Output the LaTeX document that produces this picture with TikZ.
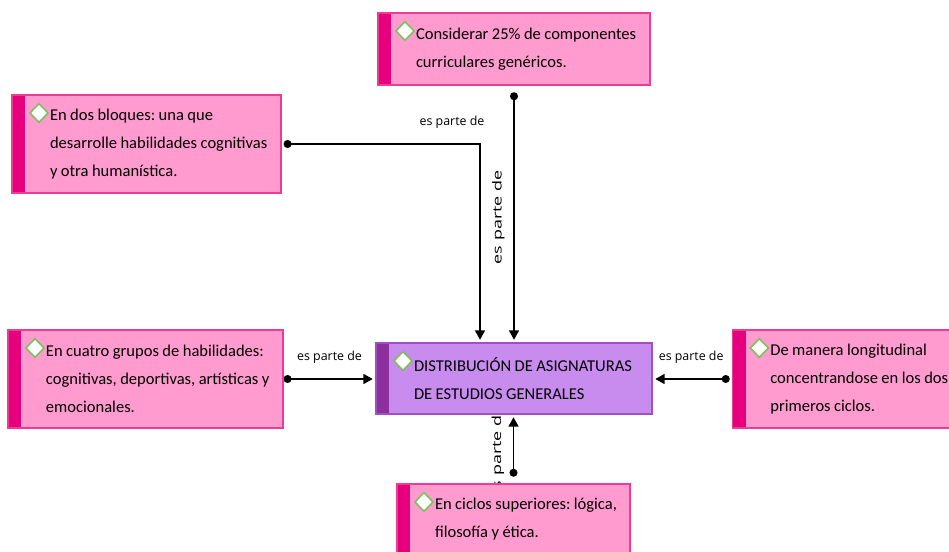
\documentclass[tikz,border=0pt]{standalone}
\usepackage{fontspec}
\setmainfont{Carlito}
\newfontfamily\labelfont{Open Sans}
\usepackage{xcolor}
\usetikzlibrary{shapes.geometric, arrows.meta}
\usetikzlibrary{shapes,positioning,backgrounds}
\definecolor{boxfill}{HTML}{FF9BCF}
\definecolor{boxedge}{HTML}{EC3C95}
\definecolor{boxbar}{HTML}{E6007E}
\definecolor{mainfill}{HTML}{C88BEE}
\definecolor{mainedge}{HTML}{A050C0}
\definecolor{mainbar}{HTML}{8E2F9E}
\definecolor{markgreen}{HTML}{7BC15C}
\tikzstyle{arrow} = [line width=1pt,{Circle[length=6pt]}->,shorten >=2pt]
\tikzstyle{linklabel} = [font=\labelfont\fontsize{9.3}{11}\selectfont, inner sep=1pt]

\begin{document}
\begin{tikzpicture}[x=0.75pt, y=-0.75pt, >={Triangle[length=7pt,width=7.5pt]},
    box/.style={rectangle, draw=boxedge, fill=boxfill, line width=0.9pt,
        align=left, inner xsep=6pt, font=\fontsize{12.4}{21}\selectfont,
        execute at begin node={\frenchspacing\hyphenpenalty=10000\spaceskip=0.21em\leftskip=22.5pt},
        path picture={
            \fill[#1] (path picture bounding box.north west)
                rectangle ([xshift=10pt]path picture bounding box.south west);
            \draw[markgreen, fill=white, line width=1.2pt]
                ([xshift=20.25pt,yshift=-6.5pt]path picture bounding box.north west)
                -- ++(6.8pt,-7pt) -- ++(-6.8pt,-7pt) -- ++(-6.8pt,7pt) -- cycle;
        }},
    box/.default=boxbar,
    mainbox/.style={box=mainbar, draw=mainedge, fill=mainfill}]
    \useasboundingbox (0,0) rectangle (949,552);
    \clip (0,0) rectangle (949,552);

    % nodos
    \node[mainbox, text width=195pt, minimum height=53.25pt] (dist) at (514,378.5)
        {DISTRIBUCIÓN DE ASIGNATURAS\\DE ESTUDIOS GENERALES};
    \node[box, text width=192pt, minimum height=54pt] (consid) at (514,49)
        {Considerar 25\% de componentes\\curriculares genéricos.};
    \node[box, text width=189.75pt, minimum height=73.5pt] (bloques) at (146.5,144)
        {En dos bloques: una que\\desarrolle habilidades cognitivas\\y otra humanística.};
    \node[box, text width=194.25pt, minimum height=73.5pt] (cuatro) at (145.5,379)
        {En cuatro grupos de habilidades:\\cognitivas, deportivas, artísticas y\\emocionales.};
    \node[box, text width=160pt, minimum height=73.5pt] (longit) at (847,379)
        {De manera longitudinal\\concentrandose en los dos\\primeros ciclos.};
    \node[box, text width=162.75pt, minimum height=52.5pt] (ciclos) at (513.5,519)
        {En ciclos superiores: lógica,\\filosofía y ética.};

    % relaciones
    \begin{pgfonlayer}{background}
        \draw[arrow] ([yshift=-5pt]consid.south) -- (consid.south |- dist.north)
            node[linklabel, midway, xshift=-5.5pt, rotate=90, xscale=1.45, anchor=south] (l1) {es parte de};
        \draw[arrow] ([xshift=1.5pt]bloques.east) -| ([xshift=-25.5pt]dist.north)
            node[linklabel, pos=0.5, above=10pt, xshift=-21pt] (l2) {es parte de};
        \draw[arrow] (cuatro.east) -- (cuatro.east -| dist.west)
            node[linklabel, midway, above=10pt] (l3) {es parte de};
        \draw[arrow] ([xshift=-1.5pt]longit.west) -- (longit.west -| dist.east)
            node[linklabel, midway, above=10pt] (l4) {es parte de};
        \draw[arrow] ([yshift=5pt]ciclos.north) -- (ciclos.north |- dist.south)
            node[linklabel, midway, xshift=-5.5pt, yshift=-5pt, rotate=90, xscale=1.45, anchor=south] (l5) {es parte de};
    \end{pgfonlayer}
\end{tikzpicture}
\end{document}
